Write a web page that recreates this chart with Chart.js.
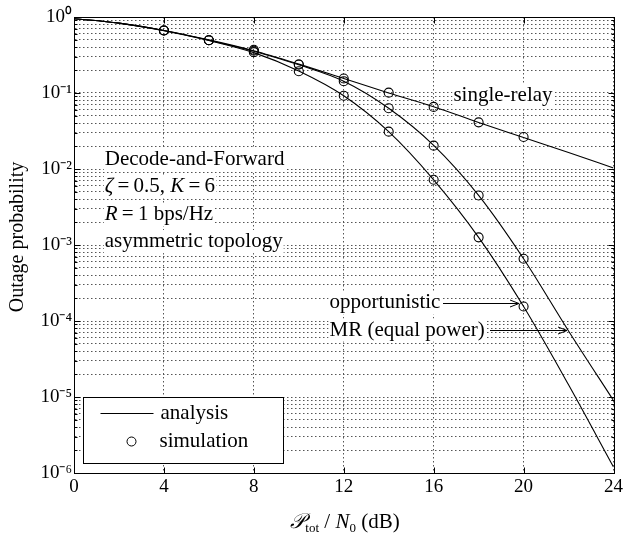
<!DOCTYPE html>
<html><head><meta charset="utf-8">
<script src="https://cdn.jsdelivr.net/npm/chart.js@4/dist/chart.umd.min.js"></script>
<style>html,body{margin:0;padding:0;background:#fff}canvas{display:block}</style>
</head><body>
<canvas id="c" width="626" height="538"></canvas>
<script>
// ---- data ----
const snrDb = [0, 2, 4, 6, 8, 10, 12, 14, 16, 18, 20, 22, 24];
const singleRelayAnalysis = [0.95, 0.83, 0.665, 0.50, 0.36, 0.24, 0.155, 0.100, 0.066, 0.041, 0.026, 0.0165, 0.0103];
const mrEqualPowerAnalysis = [0.95, 0.83, 0.665, 0.495, 0.355, 0.235, 0.143, 0.063, 0.0205, 0.0045, 6.6e-4, 7.4e-5, 9.0e-6];
const opportunisticAnalysis = [0.95, 0.83, 0.66, 0.49, 0.34, 0.195, 0.092, 0.031, 0.0072, 0.00126, 1.55e-4, 1.45e-5, 1.2e-6];
const simSnrDb = [4, 6, 8, 10, 12, 14, 16, 18, 20];
const singleRelaySim = [0.664, 0.495, 0.37, 0.237, 0.155, 0.101, 0.0656, 0.0411, 0.0264];
const mrEqualPowerSim = [0.664, 0.495, 0.36, 0.237, 0.143, 0.063, 0.0203, 0.00449, 6.6e-4];
const opportunisticSim = [0.664, 0.495, 0.345, 0.193, 0.092, 0.031, 0.00723, 0.00126, 1.55e-4];
const xTickValues = [0, 4, 8, 12, 16, 20, 24];
const yDecadeExponents = [-6, -5, -4, -3, -2, -1, 0];
const yMinorMultipliers = [1, 2, 3, 4, 5, 6, 7, 8, 9];

const SERIF = "'Liberation Serif', 'Times New Roman', serif";
const SUP = {'0':'\u2070','1':'\u00B9','2':'\u00B2','3':'\u00B3','4':'\u2074','5':'\u2075','6':'\u2076','-':'\u207B'};
const toSup = s => String(s).split('').map(c => SUP[c] || c).join('');
const isDecade = v => { const e = Math.round(Math.log10(v)); return Math.abs(v - Math.pow(10, e)) / Math.pow(10, e) < 1e-6; };

const pts = (xs, ys) => xs.map((x, i) => ({x, y: ys[i]}));
const lineDs = (label, ys) => ({label, data: pts(snrDb, ys), borderColor:'#000', borderWidth:1.1, pointRadius:0,
  cubicInterpolationMode:'monotone', fill:false});
const simDs = (label, ys) => ({label, data: pts(simSnrDb, ys), showLine:false, pointRadius:4.5, pointStyle:'circle',
  borderColor:'#000', backgroundColor:'rgba(0,0,0,0)', borderWidth:1.1, pointHoverRadius:4.5});

function richText(ctx, segs, x0, yMid, size) {
  let x = x0;
  ctx.textBaseline = 'middle';
  segs.forEach(([t, it]) => {
    ctx.font = (it ? 'italic ' : '') + size + 'px ' + SERIF;
    ctx.fillText(t, x, yMid);
    x += ctx.measureText(t).width;
  });
  return x - x0;
}
function segWidth(ctx, segs, size) {
  let w = 0;
  segs.forEach(([t, it]) => { ctx.font = (it ? 'italic ' : '') + size + 'px ' + SERIF; w += ctx.measureText(t).width; });
  return w;
}
function boxedText(ctx, segs, px, py, size) {
  const w = segWidth(ctx, segs, size);
  ctx.fillStyle = '#fff';
  ctx.fillRect(px - 1, py - size * 0.55, w + 2, size * 1.1);
  ctx.fillStyle = '#000';
  richText(ctx, segs, px, py, size);
  return w;
}
function arrow(ctx, x1, y, x2) {
  y = Math.round(y) + 0.5; x1 = Math.round(x1); x2 = Math.round(x2);
  ctx.beginPath(); ctx.moveTo(x1, y); ctx.lineTo(x2, y); ctx.stroke();
  ctx.beginPath();
  ctx.moveTo(x2 - 9, y - 3.5);
  ctx.lineTo(x2, y);
  ctx.lineTo(x2 - 9, y + 3.5);
  ctx.stroke();
}

const decorPlugin = {
  id: 'decor',
  afterDatasetsDraw(chart) {
    const {ctx, chartArea: a, scales: {x, y}} = chart;
    const X = v => x.getPixelForValue(v), Y = v => y.getPixelForValue(v);
    ctx.save();
    ctx.strokeStyle = '#000'; ctx.lineWidth = 1; ctx.setLineDash([]);
    // frame
    const L = Math.round(a.left) + 0.5, R = Math.round(a.right) + 0.5, T = Math.round(a.top) + 0.5, B = Math.round(a.bottom) + 0.5;
    ctx.strokeRect(L, T, R - L, B - T);
    // inward ticks
    ctx.beginPath();
    x.ticks.forEach(t => { const px = Math.round(X(t.value)) + 0.5; ctx.moveTo(px, B); ctx.lineTo(px, B - 6); ctx.moveTo(px, T); ctx.lineTo(px, T + 6); });
    y.ticks.forEach(t => { const py = Math.round(Y(t.value)) + 0.5; const len = isDecade(t.value) ? 6 : 3;
      ctx.moveTo(L, py); ctx.lineTo(L + len, py); ctx.moveTo(R, py); ctx.lineTo(R - len, py); });
    ctx.stroke();

    const S = 21;
    // parameter block
    const bx = X(1.37);
    boxedText(ctx, [['Decode-and-Forward', false]], bx, Y(0.0133), S);
    boxedText(ctx, [['\u03B6', true], ['\u2009=\u20090.5, ', false], ['K', true], ['\u2009=\u20096', false]], bx, Y(0.00585), S);
    boxedText(ctx, [['R', true], ['\u2009=\u20091 bps/Hz', false]], bx, Y(0.0025), S);
    boxedText(ctx, [['asymmetric topology', false]], bx, Y(0.00111), S);
    // curve labels
    boxedText(ctx, [['single-relay', false]], X(16.88), Y(0.092), S);
    const w1 = boxedText(ctx, [['opportunistic', false]], X(11.37), Y(1.73e-4), S);
    const w2 = boxedText(ctx, [['MR (equal power)', false]], X(11.37), Y(7.6e-5), S);
    ctx.strokeStyle = '#000'; ctx.lineWidth = 1;
    arrow(ctx, X(11.37) + w1 + 3, Y(1.73e-4), X(19.8));
    arrow(ctx, X(11.37) + w2 + 5, Y(7.6e-5), X(21.95));

    // legend
    const lx = Math.round(a.left + 9) + 0.5, ly = Math.round(a.bottom - 76) + 0.5, lw = 200, lh = 66;
    ctx.fillStyle = '#fff';
    ctx.fillRect(lx, ly, lw, lh);
    ctx.strokeRect(lx, ly, lw, lh);
    ctx.beginPath(); ctx.moveTo(lx + 17, ly + 16); ctx.lineTo(lx + 70, ly + 16); ctx.stroke();
    ctx.beginPath(); ctx.arc(lx + 48, ly + 44, 4.5, 0, Math.PI * 2); ctx.stroke();
    ctx.fillStyle = '#000';
    richText(ctx, [['analysis', false]], lx + 77, ly + 16, S);
    richText(ctx, [['simulation', false]], lx + 76, ly + 44, S);

    ctx.restore();
  },
  afterDraw(chart) {
    const {ctx} = chart;
    ctx.save();
    ctx.fillStyle = '#000';
    // y axis title
    ctx.translate(18, 237);
    ctx.rotate(-Math.PI / 2);
    ctx.font = '20px ' + SERIF;
    ctx.textAlign = 'center'; ctx.textBaseline = 'middle';
    ctx.fillText('Outage probability', 0, 0);
    ctx.setTransform(1, 0, 0, 1, 0, 0);
    // x axis title: P_tot / N_0 (dB)
    const parts = [
      {t: '\uD835\uDCAB', f: 'italic 21px ' + SERIF, dy: 0},
      {t: 'tot', f: '13px ' + SERIF, dy: 4},
      {t: ' / ', f: '21px ' + SERIF, dy: 0},
      {t: 'N', f: 'italic 21px ' + SERIF, dy: 0},
      {t: '0', f: '13px ' + SERIF, dy: 4},
      {t: ' (dB)', f: '21px ' + SERIF, dy: 0}
    ];
    let tw = 0;
    parts.forEach(p => { ctx.font = p.f; p.w = ctx.measureText(p.t).width; tw += p.w; });
    let cx = 345 - tw / 2;
    ctx.textAlign = 'left'; ctx.textBaseline = 'alphabetic';
    parts.forEach(p => { ctx.font = p.f; ctx.fillText(p.t, cx, 528 + p.dy); cx += p.w; });
    ctx.restore();
  }
};

const yTickValues = [];
yDecadeExponents.forEach(e => {
  if (e === 0) { yTickValues.push(1); return; }
  yMinorMultipliers.forEach(m => yTickValues.push(m * Math.pow(10, e)));
});

new Chart(document.getElementById('c').getContext('2d'), {
  type: 'line',
  data: {
    datasets: [
      lineDs('single-relay (analysis)', singleRelayAnalysis),
      lineDs('MR equal power (analysis)', mrEqualPowerAnalysis),
      lineDs('opportunistic (analysis)', opportunisticAnalysis),
      simDs('single-relay (simulation)', singleRelaySim),
      simDs('MR equal power (simulation)', mrEqualPowerSim),
      simDs('opportunistic (simulation)', opportunisticSim)
    ]
  },
  options: {
    responsive: false, animation: false, devicePixelRatio: 1,
    layout: {padding: {left: 0, right: 8, top: 17, bottom: 0}},
    plugins: {legend: {display: false}, tooltip: {enabled: false}},
    events: [],
    scales: {
      x: {
        type: 'linear', min: 0, max: 24,
        afterBuildTicks: s => { s.ticks = xTickValues.map(v => ({value: v})); },
        afterFit: s => { s.height = 65; },
        ticks: {color: '#000', font: {family: SERIF, size: 19}, padding: 3, maxRotation: 0, autoSkip: false},
        grid: {color: '#555', lineWidth: 1, drawTicks: false},
        border: {display: true, color: '#000', width: 1, dash: [1.5, 2.5]}
      },
      y: {
        type: 'logarithmic', min: 1e-6, max: 1,
        afterBuildTicks: s => { s.ticks = yTickValues.map(v => ({value: v})); },
        afterFit: s => { s.width = 74; },
        ticks: {
          color: '#000', font: {family: SERIF, size: 19}, padding: 2, autoSkip: false,
          callback: v => isDecade(v) ? '10' + toSup(Math.round(Math.log10(v))) : ''
        },
        grid: {color: '#555', lineWidth: 1, drawTicks: false},
        border: {display: true, color: '#000', width: 1, dash: [1.5, 2.5]}
      }
    }
  },
  plugins: [decorPlugin]
});
</script>
</body></html>
